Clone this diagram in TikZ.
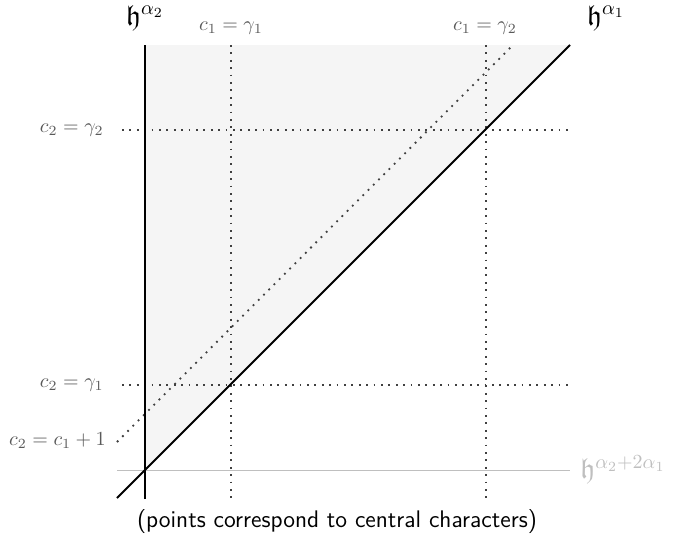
\documentclass[tikz,border=0pt]{standalone}
\usepackage{amsfonts}
\begin{document}
\begin{tikzpicture}[x=0.5pt,y=-0.5pt,
  dotline/.style={draw=black!75,line width=0.9pt,dash pattern=on 0.9pt off 2.8pt},
  mainline/.style={draw=black,line width=0.9pt},
  lbl/.style={text=black!65,font=\normalsize,inner sep=1pt},
  hlbl/.style={font=\Large,inner sep=0pt}]
\useasboundingbox (0,0) rectangle (675,541);
% key points
\coordinate (O) at (145,470);
\coordinate (Vtop) at (145,45);
\coordinate (Vbot) at (145,499);
\coordinate (Dtop) at (570,45);
\coordinate (Dbot) at (117,498);
\coordinate (Etop) at (513,45);
\coordinate (Ebot) at (117,442);
\coordinate (G1t) at (231,45);
\coordinate (G1b) at (231,499);
\coordinate (G2t) at (486,45);
\coordinate (G2b) at (486,499);
\coordinate (H2l) at (122,130);
\coordinate (H2r) at (573,130);
\coordinate (H1l) at (122,385);
\coordinate (H1r) at (573,385);
\coordinate (Gl) at (117,470);
\coordinate (Gr) at (570,470);
% shading
\fill[black!4] (O) -- (Vtop) -- (Dtop) -- cycle;
% gray line
\draw[black!25,line width=0.5pt] (Gl) -- (Gr);
% dotted lines
\draw[dotline] (G1t) -- (G1b);
\draw[dotline] (G2t) -- (G2b);
\draw[dotline] (H2l) -- (H2r);
\draw[dotline] (H1l) -- (H1r);
\draw[dotline] (Ebot) -- (Etop);
% main lines
\draw[mainline] (Vbot) -- (Vtop);
\draw[mainline] (Dbot) -- (Dtop);
% labels
\node[hlbl] (ha2) at (145,18) {$\mathfrak{h}^{\alpha_2}$};
\node[hlbl] (ha1) at (606,18) {$\mathfrak{h}^{\alpha_1}$};
\node[hlbl,text=black!25,anchor=west] (ha3) at (580,470) {$\mathfrak{h}^{\alpha_2+2\alpha_1}$};
\node[lbl] (l1) at (231,28) {$c_1=\gamma_1$};
\node[lbl] (l2) at (485,28) {$c_1=\gamma_2$};
\node[lbl,anchor=east] (l3) at (106,130) {$c_2=\gamma_2$};
\node[lbl,anchor=east] (l4) at (106,385) {$c_2=\gamma_1$};
\node[lbl,anchor=east] (l5) at (108,441) {$c_2=c_1+1$};
\node[font=\large\sffamily] (cap) at (337,522) {(points correspond to central characters)};
\end{tikzpicture}
\end{document}
